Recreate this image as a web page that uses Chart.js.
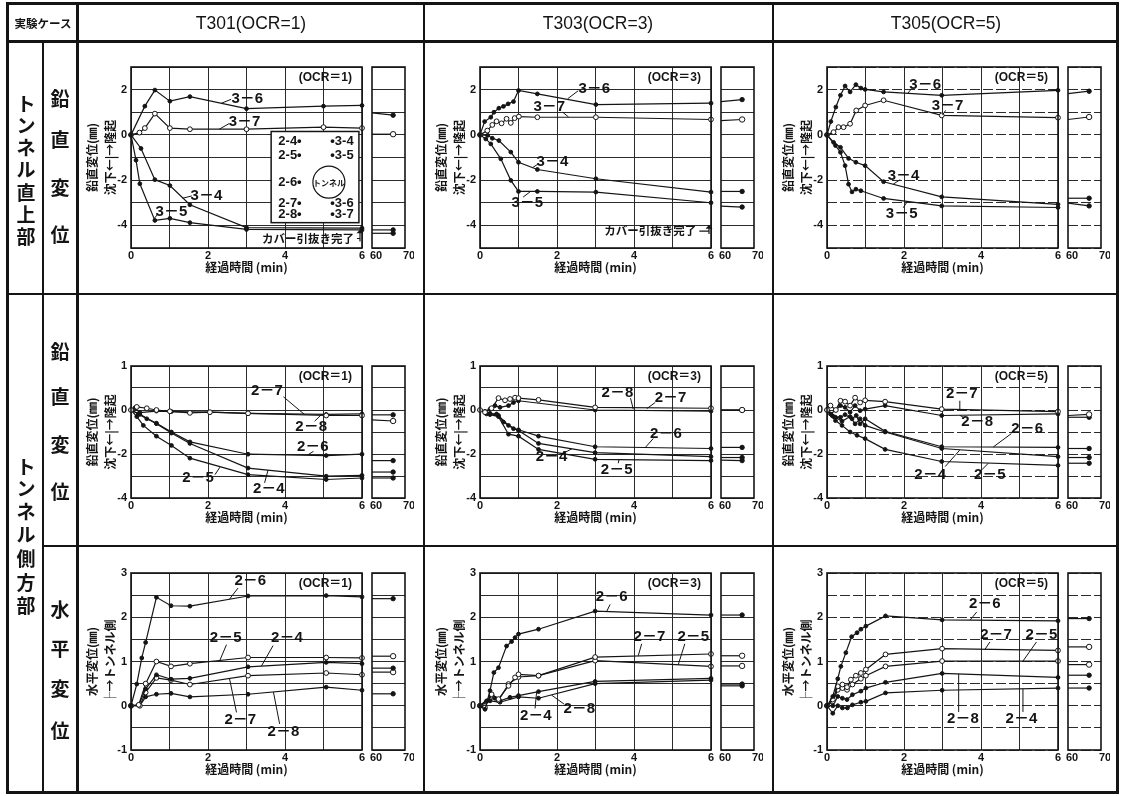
<!DOCTYPE html>
<html lang="ja">
<head>
<meta charset="utf-8">
<title>トンネル周辺地盤の変位</title>
<script src="https://cdn.jsdelivr.net/npm/chart.js@4.4.1/dist/chart.umd.min.js"></script>
<style>
  html, body { margin: 0; padding: 0; background: #fff; }
  #sheet { position: relative; width: 1124px; height: 796px; overflow: hidden; background: #fff;
           color: #141414; font-family: "Noto Sans CJK JP", sans-serif; }
  .rule { position: absolute; background: #141414; }
  .frame { position: absolute; border: 3px solid #141414; box-sizing: border-box; }
  .cell { position: absolute; transform: translate(-50%, -50%); white-space: nowrap; line-height: 1; }
  canvas { position: absolute; }
</style>
</head>
<body>
<div id="sheet"></div>
<script>
// ---------- time axes (min) ----------
const minuteTicks = [0, 1, 2, 3, 4, 5, 6];
const minuteLabels = [0, 2, 4, 6];
const lateTicks = [60, 70];
const lateTime = 66.4;            // last reading, shown on the 60–70 min strip

// ---------- displacement axes (mm) ----------
const crownTicks = [-5, -4, -3, -2, -1, 0, 1, 2, 3];
const crownLabels = [2, 0, -2, -4];
const flankVTicks = [-4, -3, -2, -1, 0, 0.5, 1];
const flankVLabels = [1, 0, -2, -4];
const flankHTicks = [-1, -0.5, 0, 0.5, 1, 1.5, 2, 2.5, 3];
const flankHLabels = [3, 2, 1, 0, -1];

const caseTitles = ['T301(OCR=1)', 'T303(OCR=3)', 'T305(OCR=5)'];
const ocrValues = [1, 3, 5];

// ---------- crown, vertical displacement: [time, mm] ----------
const crownNames = ['3-6', '3-7', '3-4', '3-5'];
const t301_crown_36 = [[0,0],[0.36,1.27],[0.62,1.98],[1.01,1.49],[1.53,1.69],[3.0,1.16],[5.0,1.27],[6,1.3]];
const t301_crown_37 = [[0,0],[0.22,0.1],[0.36,0.3],[0.62,0.94],[1.01,0.3],[1.53,0.25],[3.0,0.25],[5.0,0.34],[6,0.3]];
const t301_crown_34 = [[0,0],[0.26,-0.6],[0.62,-1.98],[1.01,-2.24],[1.53,-3.09],[3.0,-4.1],[6,-4.12]];
const t301_crown_35 = [[0,0],[0.13,-1.12],[0.23,-2.16],[0.62,-3.78],[1.01,-3.69],[1.53,-3.88],[3.0,-4.18],[6,-4.2]];
const t301_crown_late = [[0.97,0.87],[0.03,0.03],[-4.2,-4.2],[-4.35,-4.35]];

const t303_crown_36 = [[0,0],[0.12,0.59],[0.28,0.78],[0.36,1.0],[0.49,1.18],[0.61,1.26],[0.73,1.37],[0.87,1.47],[1.0,1.96],[1.49,1.81],[3.01,1.34],[6,1.4]];
const t303_crown_37 = [[0,0],[0.19,0.19],[0.32,0.44],[0.43,0.6],[0.56,0.51],[0.69,0.71],[0.8,0.53],[0.9,0.74],[1.01,0.81],[1.49,0.78],[3.01,0.78],[6,0.68]];
const t303_crown_34 = [[0,0],[0.2,-0.02],[0.32,-0.15],[0.49,-0.25],[0.8,-0.76],[1.0,-1.21],[1.49,-1.53],[3.01,-1.94],[6,-2.53]];
const t303_crown_35 = [[0,0],[0.15,-0.18],[0.28,-0.4],[0.54,-1.06],[0.8,-2.01],[1.0,-2.5],[1.49,-2.5],[3.01,-2.53],[6,-3.0]];
const t303_crown_late = [[1.47,1.56],[0.63,0.68],[-2.5,-2.5],[-3.15,-3.19]];

const t305_crown_36 = [[0,0],[0.1,0.59],[0.23,1.23],[0.35,1.75],[0.47,2.16],[0.6,1.9],[0.75,2.22],[0.88,2.07],[0.99,2.01],[1.47,1.9],[2.98,1.75],[6,1.97]];
const t305_crown_37 = [[0,0],[0.17,0.12],[0.3,0.34],[0.43,0.34],[0.6,0.49],[0.76,1.08],[0.99,1.3],[1.47,1.53],[2.98,0.86],[6,0.76]];
const t305_crown_34 = [[0,0],[0.17,-0.33],[0.35,-0.55],[0.56,-1.04],[0.75,-1.21],[0.99,-1.36],[1.47,-2.07],[2.98,-2.74],[6,-3.07]];
const t305_crown_35 = [[0,0],[0.22,-0.47],[0.35,-0.77],[0.47,-1.36],[0.56,-2.18],[0.65,-2.52],[0.75,-2.4],[0.88,-2.47],[1.47,-2.81],[2.98,-3.14],[6,-3.21]];
const t305_crown_late = [[1.82,1.93],[0.68,0.79],[-2.8,-2.8],[-3.02,-3.14]];

// ---------- tunnel side, vertical displacement ----------
const flankVNames = ['2-7', '2-8', '2-6', '2-4', '2-5'];
const t301_flankV_27 = [[0,0],[0.15,0.07],[0.41,0.04],[0.66,0],[1.01,-0.06],[1.53,-0.13],[2.05,-0.1],[3.04,-0.15],[5.07,-0.25],[6,-0.25]];
const t301_flankV_28 = [[0,0],[0.1,0.05],[0.23,-0.12],[0.66,-0.05],[1.05,-0.07],[2.05,-0.1],[3.04,-0.15],[5.07,-0.2],[6,-0.18]];
const t301_flankV_26 = [[0,0],[0.19,-0.18],[0.41,-0.4],[0.66,-0.6],[1.05,-1.0],[1.53,-1.45],[3.04,-2.01],[5.07,-2.07],[6,-2.01]];
const t301_flankV_24 = [[0,0],[0.23,-0.2],[0.66,-0.62],[1.05,-1.05],[1.53,-1.52],[3.04,-2.64],[5.07,-3.01],[6,-2.97]];
const t301_flankV_25 = [[0,0],[0.15,-0.3],[0.32,-0.7],[0.66,-1.19],[1.05,-1.61],[1.53,-2.19],[3.04,-2.94],[5.07,-3.16],[6,-3.09]];
const t301_flankV_late = [[-0.45,-0.5],[-0.22,-0.22],[-2.3,-2.3],[-2.82,-2.82],[-3.09,-3.09]];

const t303_flankV_27 = [[0,0],[0.13,-0.1],[0.3,0.04],[0.48,0.27],[0.65,0.22],[0.78,0.25],[0.91,0.28],[1.0,0.27],[1.52,0.23],[2.99,0.06],[6,0.04]];
const t303_flankV_28 = [[0,0],[0.13,-0.06],[0.26,0.02],[0.39,0.1],[0.52,0.06],[0.74,0.1],[0.87,0.17],[1.0,0.21],[2.99,0.0],[6,-0.05]];
const t303_flankV_26 = [[0,0],[0.17,-0.18],[0.43,-0.18],[0.61,-0.55],[0.87,-0.85],[1.0,-0.9],[1.52,-1.19],[2.99,-1.67],[6,-1.75]];
const t303_flankV_24 = [[0,0],[0.26,-0.15],[0.48,-0.25],[0.74,-0.7],[1.0,-0.93],[1.52,-1.52],[2.99,-1.94],[6,-2.12]];
const t303_flankV_25 = [[0,0],[0.26,-0.21],[0.48,-0.3],[0.74,-1.1],[1.0,-1.19],[1.52,-1.79],[2.99,-2.24],[6,-2.3]];
const t303_flankV_late = [[0.0,0.0],[0.0,0.0],[-1.7,-1.7],[-2.16,-2.16],[-2.28,-2.3]];

const t305_flankV_27 = [[0,0],[0.09,0.1],[0.23,0],[0.35,0.21],[0.47,0.19],[0.6,0.1],[0.73,0.28],[0.86,0.17],[0.99,0.22],[1.51,0.19],[2.98,0.02],[6,-0.07]];
const t305_flankV_28 = [[0,0],[0.09,-0.18],[0.23,0],[0.35,0.1],[0.47,0.06],[0.6,-0.1],[0.73,0.1],[0.86,-0.03],[0.99,0.02],[1.51,0.1],[2.98,-0.25],[6,-0.18]];
const t305_flankV_26 = [[0,0],[0.17,-0.3],[0.35,-0.33],[0.47,-0.21],[0.65,-0.4],[0.76,-0.25],[0.86,-0.63],[0.99,-0.4],[1.51,-0.97],[2.98,-1.67],[6,-1.7]];
const t305_flankV_24 = [[0,0],[0.22,-0.33],[0.39,-0.51],[0.6,-0.3],[0.73,-0.63],[0.86,-0.4],[0.99,-0.7],[1.51,-1.0],[2.98,-1.75],[6,-2.12]];
const t305_flankV_25 = [[0,0],[0.13,-0.25],[0.22,-0.48],[0.39,-0.7],[0.6,-1.0],[0.78,-1.15],[0.99,-1.3],[1.51,-1.79],[2.98,-2.34],[6,-2.52]];
const t305_flankV_late = [[-0.25,-0.2],[-0.33,-0.33],[-1.75,-1.75],[-2.16,-2.16],[-2.42,-2.42]];

// ---------- tunnel side, horizontal displacement ----------
const t301_flankH_names = ['2-6', '2-5', '2-4', '2-7', '2-8'];
const t301_flankH_26 = [[0,0],[0.15,0.49],[0.28,1.08],[0.38,1.43],[0.66,2.45],[1.04,2.26],[1.53,2.25],[3.04,2.48],[5.07,2.49],[6,2.46]];
const t301_flankH_25 = [[0,0],[0.2,0.02],[0.38,0.5],[0.66,1.0],[1.04,0.89],[1.53,0.95],[3.04,1.09],[5.07,1.09],[6,1.08]];
const t301_flankH_24 = [[0,0],[0.2,0.02],[0.38,0.38],[0.66,0.7],[1.04,0.6],[1.53,0.62],[3.04,0.88],[5.07,0.98],[6,0.95]];
const t301_flankH_27 = [[0,0],[0.23,0],[0.38,0.3],[0.66,0.63],[1.04,0.58],[1.53,0.48],[3.04,0.68],[5.07,0.74],[6,0.7]];
const t301_flankH_28 = [[0,0],[0.23,0],[0.38,0.2],[0.66,0.26],[1.04,0.28],[1.53,0.2],[3.04,0.26],[5.07,0.42],[6,0.35]];
const t301_flankH_late = [[2.42,2.42],[1.12,1.12],[0.85,0.85],[0.76,0.76],[0.27,0.27]];

const t303_flankH_names = ['2-6', '2-7', '2-5', '2-4', '2-8'];
const t303_flankH_26 = [[0,0],[0.13,-0.08],[0.26,0.34],[0.36,0.75],[0.48,0.86],[0.69,1.35],[0.82,1.45],[0.91,1.54],[1.0,1.62],[1.52,1.73],[2.99,2.14],[6,2.05]];
const t303_flankH_27 = [[0,0],[0.13,-0.04],[0.3,0.26],[0.48,0.15],[0.74,0.45],[0.91,0.64],[1.0,0.71],[1.52,0.68],[2.99,1.1],[6,1.17]];
const t303_flankH_25 = [[0,0],[0.3,0.23],[0.48,0.12],[0.74,0.49],[1.0,0.65],[1.52,0.68],[2.99,1.02],[6,0.89]];
const t303_flankH_24 = [[0,0],[0.17,0.11],[0.39,0.17],[0.52,0.11],[0.78,0.19],[1.0,0.23],[1.52,0.32],[2.99,0.55],[6,0.62]];
const t303_flankH_28 = [[0,0],[0.26,0.11],[0.52,0.08],[1.0,0.2],[1.52,0.17],[2.99,0.5],[6,0.58]];
const t303_flankH_late = [[2.05,2.05],[1.13,1.13],[0.9,0.9],[0.49,0.49],[0.45,0.45]];

const t305_flankH_names = ['2-6', '2-7', '2-5', '2-8', '2-4'];
const t305_flankH_26 = [[0,0],[0.15,0.21],[0.28,0.61],[0.36,0.89],[0.49,1.2],[0.64,1.56],[0.78,1.65],[0.88,1.73],[1.01,1.8],[1.52,2.03],[2.99,1.94],[6,1.92]];
const t305_flankH_27 = [[0,0],[0.15,0.14],[0.28,0.44],[0.4,0.48],[0.52,0.42],[0.62,0.59],[0.75,0.68],[0.88,0.74],[1.01,0.82],[1.52,1.16],[2.99,1.29],[6,1.25]];
const t305_flankH_25 = [[0,0],[0.15,0.1],[0.28,0.36],[0.4,0.4],[0.52,0.36],[0.66,0.48],[0.88,0.61],[1.01,0.68],[1.52,0.89],[2.99,1.01],[6,1.01]];
const t305_flankH_28 = [[0,0],[0.15,0],[0.28,0.21],[0.4,0.17],[0.52,0.14],[0.66,0.25],[0.88,0.33],[1.01,0.4],[1.52,0.53],[2.99,0.73],[6,0.64]];
const t305_flankH_24 = [[0,0],[0.15,-0.17],[0.28,0],[0.4,-0.05],[0.53,-0.05],[0.66,0.02],[0.88,0.08],[1.01,0.1],[1.52,0.29],[2.99,0.35],[6,0.4]];
const t305_flankH_late = [[1.97,1.97],[1.33,1.33],[0.93,0.93],[0.69,0.69],[0.4,0.4]];

// ---------- curve tags: [series index, text t, text mm, leader t1, mm1, t2, mm2] ----------
const t301_crown_tags = [[0,3.02,1.57,2.35,1.4,2.6,1.57],[1,2.95,0.57,2.29,0.25,2.55,0.5],[2,1.96,-2.69,1.34,-2.8,1.58,-2.7],[3,1.05,-3.39,0.6,-3.7,0.7,-3.5]];
const t303_crown_tags = [[0,2.97,2.03,2.28,1.6,2.55,1.95],[1,1.8,1.26,2.15,1.0,2.3,0.79],[2,1.88,-1.21,1.36,-1.45,1.5,-1.3],[3,1.23,-3.0,1.12,-2.75,1.3,-2.52]];
const t305_crown_tags = [[0,2.55,2.22,2.1,1.84,2.2,2.05],[1,3.13,1.3,3.0,0.88,3.08,1.08],[2,1.99,-1.81,1.72,-2.18,1.9,-1.98],[3,1.94,-3.51,1.98,-3.22,2.08,-2.96]];
const t301_flankV_tags = [[0,3.53,0.43,3.96,0.3,4.51,-0.21],[1,4.68,-0.78,4.77,-0.51,4.94,-0.22],[2,4.72,-1.67,4.6,-2.03,4.74,-1.88],[4,1.74,-3.09,2.18,-2.94,2.31,-2.6],[3,3.58,-3.58,3.47,-3.31,3.56,-2.73]];
const t303_flankV_tags = [[1,3.57,0.4,3.91,0.27,3.98,0.02],[0,4.95,0.27,4.55,0.17,4.33,0.03],[2,4.83,-1.07,4.5,-1.3,4.29,-1.71],[3,1.86,-2.12,2.16,-1.97,2.38,-1.77],[4,3.55,-2.72,3.59,-2.42,3.61,-2.26]];
const t305_flankV_tags = [[0,3.5,0.36,3.45,0.21,3.45,0.01],[1,3.9,-0.55,3.54,-0.33,3.45,-0.24],[2,5.2,-0.85,4.79,-1.07,4.32,-1.68],[3,2.68,-2.94,3.07,-2.57,3.45,-1.82],[4,4.23,-2.94,4.02,-2.72,4.19,-2.42]];
const t301_flankH_tags = [[0,3.1,2.82,2.78,2.66,2.56,2.41],[1,2.46,1.53,2.48,1.38,2.31,1.03],[2,4.05,1.53,3.69,1.36,3.39,0.9],[3,2.84,-0.32,2.74,-0.15,2.56,0.61],[4,3.96,-0.58,3.86,-0.41,3.7,0.31]];
const t303_flankH_tags = [[0,3.42,2.46,3.38,2.29,3.29,2.13],[1,4.4,1.56,4.2,1.4,4.11,1.13],[2,5.54,1.56,5.32,1.4,5.15,0.93],[3,1.45,-0.23,1.43,-0.06,1.47,0.31],[4,2.58,-0.08,2.18,0.04,1.86,0.24]];
const t305_flankH_tags = [[0,4.1,2.3,3.89,2.12,3.72,1.94],[1,4.39,1.6,4.23,1.44,4.1,1.27],[2,5.57,1.6,5.44,1.44,5.09,1.01],[3,3.53,-0.3,3.42,-0.14,3.42,0.72],[4,5.05,-0.3,5.09,-0.14,5.09,0.38]];

// gauge key drawn inside the T301 crown plot
const gaugeKey = {
  box: [3.64, 0.15, 5.92, -3.88], leftT: 4.13, rightT: 5.48,
  rowsMm: [-0.3, -0.9, -2.09, -3.01, -3.51], ring: [5.14, -2.09],
  left: ['2-4•', '2-5•', '2-6•', '2-7•', '2-8•'], right: ['•3-4', '•3-5', '', '•3-6', '•3-7']
};
// "cover pulled out" marker at 6 min
const t301_cover = { textT: 5.79, textMm: -4.58, stemTop: -4.3, tip: -4.18 };
const t303_cover = { textT: 5.62, textMm: -4.25, stemTop: -4.1, tip: -3.98 };

const panels = [
  { row: 0, col: 0, names: crownNames, series: [t301_crown_36, t301_crown_37, t301_crown_34, t301_crown_35], late: t301_crown_late, open: [false, true, false, false], tags: t301_crown_tags, key: gaugeKey, cover: t301_cover },
  { row: 0, col: 1, names: crownNames, series: [t303_crown_36, t303_crown_37, t303_crown_34, t303_crown_35], late: t303_crown_late, open: [false, true, false, false], tags: t303_crown_tags, cover: t303_cover },
  { row: 0, col: 2, names: crownNames, series: [t305_crown_36, t305_crown_37, t305_crown_34, t305_crown_35], late: t305_crown_late, open: [false, true, false, false], tags: t305_crown_tags },
  { row: 1, col: 0, names: flankVNames, series: [t301_flankV_27, t301_flankV_28, t301_flankV_26, t301_flankV_24, t301_flankV_25], late: t301_flankV_late, open: [true, false, false, false, false], tags: t301_flankV_tags },
  { row: 1, col: 1, names: flankVNames, series: [t303_flankV_27, t303_flankV_28, t303_flankV_26, t303_flankV_24, t303_flankV_25], late: t303_flankV_late, open: [true, false, false, false, false], tags: t303_flankV_tags },
  { row: 1, col: 2, names: flankVNames, series: [t305_flankV_27, t305_flankV_28, t305_flankV_26, t305_flankV_24, t305_flankV_25], late: t305_flankV_late, open: [true, false, false, false, false], tags: t305_flankV_tags },
  { row: 2, col: 0, names: t301_flankH_names, series: [t301_flankH_26, t301_flankH_25, t301_flankH_24, t301_flankH_27, t301_flankH_28], late: t301_flankH_late, open: [false, true, false, true, false], tags: t301_flankH_tags },
  { row: 2, col: 1, names: t303_flankH_names, series: [t303_flankH_26, t303_flankH_27, t303_flankH_25, t303_flankH_24, t303_flankH_28], late: t303_flankH_late, open: [false, true, true, false, false], tags: t303_flankH_tags },
  { row: 2, col: 2, names: t305_flankH_names, series: [t305_flankH_26, t305_flankH_27, t305_flankH_25, t305_flankH_28, t305_flankH_24], late: t305_flankH_late, open: [false, true, true, false, false], tags: t305_flankH_tags }
];

// ---------- styling / layout ----------
const INK = '#141414', GRID = '#2b2b2b';
const LATIN = '"Liberation Sans", "Noto Sans CJK JP", sans-serif';
const JP = '"Noto Sans CJK JP", sans-serif';
const AXIS_W = 47, AXIS_H = 28, PAD_T = 10, PAD_R = 8, STRIP_PAD = 9;
const PLOT_W = 231, STRIP_W = 33, STRIP_GAP = 10;
const colLeft = [131, 480, 827];
const rowBox = [{ top: 67, h: 181 }, { top: 366, h: 132 }, { top: 573, h: 177 }];
const UPPER_GAIN = 2;   // the heave side of the lateral vertical plots is drawn at double scale

const vTitle = ['鉛直変位(㎜)', '沈下←|→隆起'];
const rowAxes = [
  { type: 'linear', min: -5, max: 3, ticks: crownTicks, labels: crownLabels, title: vTitle },
  { type: 'split', min: -4, max: 1 * UPPER_GAIN, ticks: flankVTicks, labels: flankVLabels, title: vTitle },
  { type: 'linear', min: -1, max: 3, ticks: flankHTicks, labels: flankHLabels, title: ['水平変位(㎜)', '├→トンネル側'] }
];

// linear scale whose positive side is stretched by UPPER_GAIN
class SplitScale extends Chart.LinearScale {
  getPixelForValue(v) {
    if (v === null || v === undefined) return NaN;
    return super.getPixelForValue(v > 0 ? v * UPPER_GAIN : v);
  }
  getValueForPixel(p) {
    const d = super.getValueForPixel(p);
    return d > 0 ? d / UPPER_GAIN : d;
  }
}
SplitScale.id = 'split';
SplitScale.defaults = Chart.LinearScale.defaults;
Chart.register(SplitScale);

function pt(chart, t, v) {
  return [chart.scales.x.getPixelForValue(t), chart.scales.y.getPixelForValue(v)];
}

function drawKey(chart, k) {
  const ctx = chart.ctx;
  const [l, t] = pt(chart, k.box[0], k.box[1]);
  const [r, b] = pt(chart, k.box[2], k.box[3]);
  ctx.fillStyle = '#fff';
  ctx.fillRect(l, t, r - l, b - t);
  ctx.lineWidth = 1.5;
  ctx.strokeRect(l, t, r - l, b - t);
  ctx.fillStyle = INK;
  ctx.font = `bold 13px ${LATIN}`;
  ctx.textAlign = 'center';
  k.rowsMm.forEach((v, i) => {
    const y = chart.scales.y.getPixelForValue(v);
    if (k.left[i]) ctx.fillText(k.left[i], chart.scales.x.getPixelForValue(k.leftT), y);
    if (k.right[i]) ctx.fillText(k.right[i], chart.scales.x.getPixelForValue(k.rightT), y);
  });
  const [cx, cy] = pt(chart, k.ring[0], k.ring[1]);
  ctx.beginPath();
  ctx.arc(cx, cy, 16, 0, Math.PI * 2);
  ctx.lineWidth = 1.2;
  ctx.stroke();
  ctx.font = `bold 8px ${JP}`;
  ctx.fillText('トンネル', cx, cy + 0.5);
}

function drawCover(chart, c) {
  const ctx = chart.ctx;
  const [tx, ty] = pt(chart, c.textT, c.textMm);
  const sx = chart.scales.x.getPixelForValue(6) - 2;
  const yt = chart.scales.y.getPixelForValue(c.stemTop);
  const ytip = chart.scales.y.getPixelForValue(c.tip);
  ctx.font = `bold 11.5px ${JP}`;
  ctx.textAlign = 'right';
  ctx.fillText('カバー引抜き完了', tx, ty);
  ctx.lineWidth = 1.2;
  ctx.beginPath();
  ctx.moveTo(tx + 3, ty);
  ctx.lineTo(sx, ty);
  ctx.moveTo(sx, ty + 3);
  ctx.lineTo(sx, yt);
  ctx.stroke();
  ctx.beginPath();
  ctx.moveTo(sx, ytip);
  ctx.lineTo(sx - 3.5, yt + 1);
  ctx.lineTo(sx + 3.5, yt + 1);
  ctx.closePath();
  ctx.fill();
}

function drawNotes(chart, p) {
  const ctx = chart.ctx, a = chart.chartArea;
  ctx.fillStyle = INK;
  ctx.strokeStyle = INK;
  ctx.textBaseline = 'middle';
  ctx.font = `bold 12px ${LATIN}`;
  ctx.textAlign = 'right';
  ctx.fillText(`(OCR＝${ocrValues[p.col]})`, a.right - 10, a.top + 11);
  if (p.key) drawKey(chart, p.key);
  ctx.font = `bold 15px ${LATIN}`;
  ctx.textAlign = 'center';
  ctx.lineWidth = 1;
  for (const [i, tx, ty, ax, ay, bx, by] of p.tags) {
    const [x1, y1] = pt(chart, ax, ay);
    const [x2, y2] = pt(chart, bx, by);
    ctx.beginPath();
    ctx.moveTo(x1, y1);
    ctx.lineTo(x2, y2);
    ctx.stroke();
    const [cx, cy] = pt(chart, tx, ty);
    ctx.fillText(p.names[i].replace('-', '－'), cx, cy);
  }
  if (p.cover) drawCover(chart, p.cover);
}

const sheetPlugin = {
  id: 'sheet',
  afterDraw(chart, args, opts) {
    const ctx = chart.ctx, a = chart.chartArea;
    ctx.save();
    ctx.strokeStyle = INK;
    ctx.lineWidth = 1.6;
    ctx.strokeRect(a.left, a.top, a.right - a.left, a.bottom - a.top);
    if (opts.panel >= 0) drawNotes(chart, panels[opts.panel]);
    ctx.restore();
  }
};
Chart.register(sheetPlugin);
Chart.defaults.font.family = LATIN;
Chart.defaults.color = INK;

const sheet = document.getElementById('sheet');

function addCanvas(left, top, w, h) {
  const c = document.createElement('canvas');
  c.width = w; c.height = h;
  c.style.cssText = `left:${left}px;top:${top}px;width:${w}px;height:${h}px`;
  sheet.appendChild(c);
  return c;
}

function yScale(p, withTitle) {
  const ax = rowAxes[p.row];
  return {
    type: ax.type, min: ax.min, max: ax.max,
    afterBuildTicks: s => { s.ticks = ax.ticks.map(v => ({ value: v })); },
    afterFit: s => { s.width = withTitle ? AXIS_W : 0; s.paddingTop = 0; s.paddingBottom = 0; },
    ticks: { display: withTitle, autoSkip: false, padding: 4, color: INK,
             font: { size: 11, weight: 'bold' },
             callback: v => ax.labels.includes(v) ? String(v) : '' },
    grid: { color: GRID, lineWidth: 1, drawTicks: false },
    border: { display: false, dash: p.col === 2 ? [10, 3] : [] },
    title: withTitle
      ? { display: true, text: ax.title, color: INK, padding: { top: 0, bottom: 0 },
          font: { family: JP, size: 12, weight: 'bold', lineHeight: 1.45 } }
      : { display: false }
  };
}

function datasets(p, strip) {
  return p.series.map((pts, i) => {
    const open = p.open[i];
    const r = open ? 2.4 : 1.9;
    return {
      label: p.names[i],
      data: strip
        ? [{ x: lateTicks[0], y: p.late[i][0] }, { x: lateTime, y: p.late[i][1] }]
        : pts.map(([t, v]) => ({ x: t, y: v })),
      borderColor: INK, borderWidth: 1.2,
      pointRadius: strip ? [0, r + 0.3] : r,
      pointBackgroundColor: open ? '#fff' : INK,
      pointBorderColor: INK, pointBorderWidth: 1,
      tension: 0, fill: false, clip: 6
    };
  });
}

function baseOptions(panelIndex, pad) {
  return {
    responsive: false, animation: false, devicePixelRatio: 1, events: [],
    layout: { padding: pad },
    plugins: { legend: { display: false }, tooltip: { enabled: false }, sheet: { panel: panelIndex } }
  };
}

panels.forEach((p, idx) => {
  const box = rowBox[p.row];
  const x0 = colLeft[p.col];

  // main plot, 0–6 min
  const mw = AXIS_W + PLOT_W + PAD_R, mh = PAD_T + box.h + AXIS_H;
  const mainOpts = baseOptions(idx, { left: 0, right: PAD_R, top: PAD_T, bottom: 0 });
  mainOpts.scales = {
    x: {
      type: 'linear', min: 0, max: 6,
      afterBuildTicks: s => { s.ticks = minuteTicks.map(v => ({ value: v })); },
      afterFit: s => { s.height = AXIS_H; s.paddingLeft = 0; s.paddingRight = 0; },
      ticks: { autoSkip: false, maxRotation: 0, padding: 1, color: INK, font: { size: 11, weight: 'bold' },
               callback: v => minuteLabels.includes(v) ? String(v) : '' },
      grid: { color: GRID, lineWidth: 1, drawTicks: false },
      border: { display: false },
      title: { display: true, text: '経過時間 (min)', color: INK, padding: { top: 0, bottom: 1 },
               font: { family: JP, size: 12, weight: 'bold' } }
    },
    y: yScale(p, true)
  };
  new Chart(addCanvas(x0 - AXIS_W, box.top - PAD_T, mw, mh), {
    type: 'line', data: { datasets: datasets(p, false) }, options: mainOpts
  });

  // late strip, 60–70 min
  const sx = x0 + PLOT_W + STRIP_GAP;
  const sw = STRIP_PAD * 2 + STRIP_W;
  const stripOpts = baseOptions(-1, { left: STRIP_PAD, right: STRIP_PAD, top: PAD_T, bottom: 0 });
  stripOpts.scales = {
    x: {
      type: 'linear', min: lateTicks[0], max: lateTicks[1],
      afterBuildTicks: s => { s.ticks = lateTicks.map(v => ({ value: v })); },
      afterFit: s => { s.height = AXIS_H; s.paddingLeft = 0; s.paddingRight = 0; },
      ticks: { autoSkip: false, maxRotation: 0, padding: 1, labelOffset: 4, color: INK,
               font: { size: 11, weight: 'bold' } },
      grid: { display: false, drawTicks: false },
      border: { display: false }
    },
    y: yScale(p, false)
  };
  new Chart(addCanvas(sx - STRIP_PAD, box.top - PAD_T, sw, mh), {
    type: 'line', data: { datasets: datasets(p, true) }, options: stripOpts
  });
});

// ---------- table frame ----------
function rule(l, t, w, h) {
  const d = document.createElement('div');
  d.className = 'rule';
  d.style.cssText = `left:${l}px;top:${t}px;width:${w}px;height:${h}px`;
  sheet.appendChild(d);
}
function cell(str, cx, cy, css) {
  const d = document.createElement('div');
  d.className = 'cell';
  d.textContent = str;
  d.style.cssText = `left:${cx}px;top:${cy}px;${css}`;
  sheet.appendChild(d);
}
const outer = document.createElement('div');
outer.className = 'frame';
outer.style.cssText = 'left:6px;top:2px;width:1113px;height:792px';
sheet.appendChild(outer);

rule(6, 40, 1113, 3);       // under the header row
rule(6, 293, 1113, 2);      // crown / side boundary
rule(42, 545, 1077, 2);     // vertical / horizontal rows of the side block
rule(42, 40, 2, 754);
rule(76, 2, 2.5, 792);
rule(423, 2, 2, 792);
rule(772, 2, 2, 792);

cell('実験ケース', 43, 24, 'font-size:11.5px;font-weight:700;');
const headCx = [251, 598, 946];
caseTitles.forEach((t, i) => cell(t, headCx[i], 24, 'font-family:"Liberation Sans",sans-serif;font-size:17.5px;'));

function column(str, cx, ys) {
  [...str].forEach((ch, i) => cell(ch, cx, ys[i], 'font-size:19px;font-weight:700;'));
}
column('トンネル直上部', 26, [102, 124, 146, 168, 191, 213, 235]);
column('鉛直変位', 60, [97, 138, 186, 233]);
column('トンネル側方部', 26, [465, 487, 510, 533, 557, 581, 604]);
column('鉛直変位', 60, [350, 395, 443, 490]);
column('水平変位', 60, [608, 647, 687, 729]);
</script>
</body>
</html>
